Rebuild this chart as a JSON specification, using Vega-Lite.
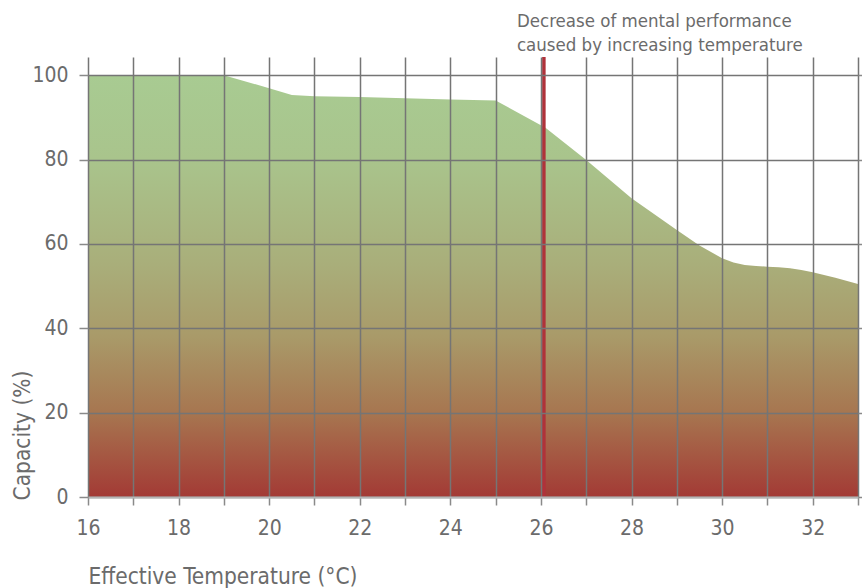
{
  "$schema": "https://vega.github.io/schema/vega-lite/v6.json",
  "width": 770,
  "height": 440,
  "autosize": {"type": "none"},
  "padding": {"left": 88, "top": 57, "right": 4, "bottom": 91},
  "background": "white",
  "config": {
    "view": {"stroke": null},
    "font": "DejaVu Sans Condensed",
    "axis": {
      "labelFont": "DejaVu Sans Condensed",
      "titleFont": "DejaVu Sans Condensed",
      "labelColor": "#6b6b6b",
      "titleColor": "#6b6b6b",
      "labelFontSize": 21,
      "titleFontSize": 22.5,
      "titleFontWeight": "normal",
      "gridColor": "#757575",
      "gridWidth": 1.5,
      "gridOpacity": 1,
      "tickColor": "#8a8a8a",
      "tickWidth": 1.5
    }
  },
  "datasets": {
    "curve": [
      {"t": 16, "c": 100},
      {"t": 17, "c": 100},
      {"t": 18, "c": 100},
      {"t": 19, "c": 100},
      {"t": 20, "c": 96.9},
      {"t": 20.5, "c": 95.3},
      {"t": 21, "c": 95.0},
      {"t": 22, "c": 94.8},
      {"t": 23, "c": 94.5},
      {"t": 24, "c": 94.2},
      {"t": 25, "c": 94.0},
      {"t": 26.1, "c": 87.5},
      {"t": 27, "c": 79.9},
      {"t": 28, "c": 70.8},
      {"t": 29, "c": 63.3},
      {"t": 29.5, "c": 59.6},
      {"t": 30, "c": 56.6},
      {"t": 30.25, "c": 55.6},
      {"t": 30.5, "c": 55.0},
      {"t": 30.75, "c": 54.75},
      {"t": 31, "c": 54.6},
      {"t": 31.25, "c": 54.45},
      {"t": 31.5, "c": 54.2},
      {"t": 31.75, "c": 53.8},
      {"t": 32, "c": 53.3},
      {"t": 32.5, "c": 52.0},
      {"t": 33, "c": 50.5}
    ],
    "marker": [
      {"t": 26.065, "top": 104.3, "tx": 25.47, "label": ["Decrease of mental performance", "caused by increasing temperature"]}
    ]
  },
  "layer": [
    {
      "data": {"name": "curve"},
      "mark": {
        "type": "area",
        "interpolate": "linear",
        "color": {
          "gradient": "linear",
          "x1": 0, "y1": 0, "x2": 0, "y2": 1,
          "stops": [
            {"offset": 0, "color": "#a8cb92"},
            {"offset": 0.2, "color": "#a9c48c"},
            {"offset": 0.45, "color": "#a9ae7a"},
            {"offset": 0.62, "color": "#a99a69"},
            {"offset": 0.8, "color": "#a77650"},
            {"offset": 1, "color": "#a33a35"}
          ]
        }
      },
      "encoding": {
        "x": {
          "field": "t", "type": "quantitative",
          "scale": {"domain": [16, 33], "nice": false, "zero": false},
          "axis": {
            "title": "Effective Temperature (°C)",
            "values": [16,17,18,19,20,21,22,23,24,25,26,27,28,29,30,31,32,33],
            "labelExpr": "datum.value % 2 == 0 ? datum.label : ''",
            "tickSize": 8,
            "labelPadding": 12,
            "labelFlush": false,
            "labelOverlap": false,
            "domainColor": "#b5b5b5",
            "domainWidth": 2,
            "titleAnchor": "start",
            "titleAlign": "left",
            "titleX": 0,
            "titleY": 86,
            "titleBaseline": "alphabetic",
            "zindex": 1
          }
        },
        "y": {
          "field": "c", "type": "quantitative",
          "scale": {"domain": [0, 104.3], "nice": false},
          "axis": {
            "title": "Capacity  (%)",
            "values": [0, 20, 40, 60, 80, 100],
            "tickSize": 9,
            "labelPadding": 11,
            "domain": false,
            "titleAngle": -90,
            "titleAlign": "left",
            "titleBaseline": "middle",
            "titleX": -66,
            "titleY": 443,
            "zindex": 1
          }
        }
      }
    },
    {
      "data": {"name": "curve"},
      "mark": {"type": "point", "opacity": 0},
      "encoding": {
        "x": {"field": "t", "type": "quantitative", "scale": {"domain": [16, 33], "nice": false, "zero": false}},
        "y": {
          "field": "c", "type": "quantitative",
          "scale": {"domain": [0, 104.3], "nice": false},
          "axis": {"orient": "right", "title": null, "labels": false, "grid": false, "domain": false, "values": [0, 20, 40, 60, 80, 100], "tickSize": 4, "zindex": 1}
        }
      }
    },
    {
      "data": {"name": "marker"},
      "mark": {"type": "rule", "color": "#b0323a", "strokeWidth": 3.5},
      "encoding": {
        "x": {"field": "t", "type": "quantitative"}
      }
    },
    {
      "data": {"name": "marker"},
      "mark": {"type": "text", "align": "left", "baseline": "bottom", "fontSize": 18.5, "lineHeight": 24, "color": "#6b6b6b", "font": "DejaVu Sans Condensed", "dy": -26},
      "encoding": {
        "x": {"field": "tx", "type": "quantitative"},
        "y": {"field": "top", "type": "quantitative", "scale": {"domain": [0, 104.3], "nice": false}, "axis": null},
        "text": {"field": "label"}
      }
    }
  ],
  "resolve": {"axis": {"y": "independent"}}
}
